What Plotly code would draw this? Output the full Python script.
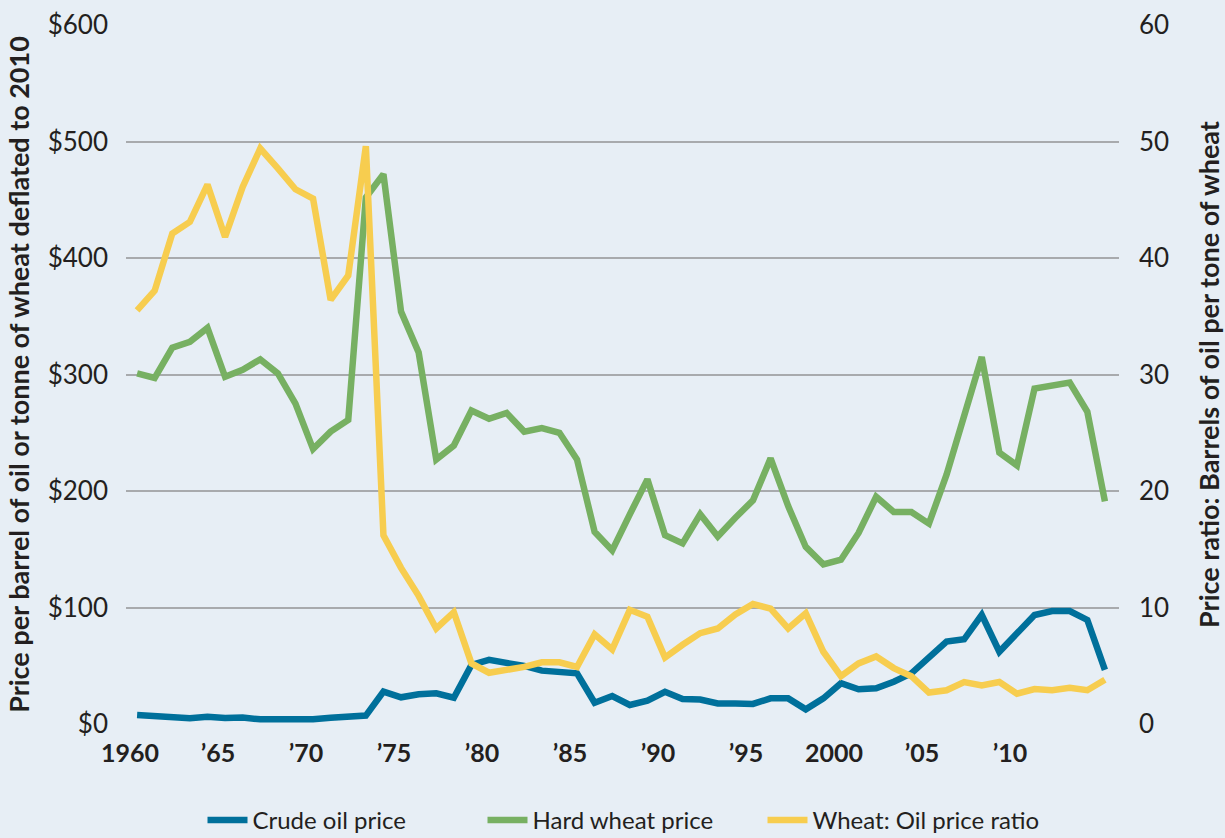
import plotly.graph_objects as go

years = list(range(1960, 2016))

crude_oil = [7.7, 7.0, 5.7, 4.9, 6.3, 5.2, 5.5, 4.0, 4.0, 4.0,
             4.0, 5.4, 5.7, 7.2, 27.8, 22.9, 25.5, 26.3, 22.6, 50.7,
             55.0, 52.7, 49.8, 45.8, 44.7, 43.5, 18.3, 24.0, 16.3, 20.0,
             27.7, 21.5, 21.0, 17.7, 17.7, 17.2, 22.0, 22.0, 12.6, 22.0,
             35.0, 29.8, 30.6, 36.3, 43.5, 57.8, 70.7, 72.7, 93.6, 62.0,
             77.9, 93.6, 97.0, 97.0, 89.3, 46.4]

hard_wheat = [301, 297, 323, 328, 340, 298, 304, 313, 301, 275,
              236, 251, 261, 452, 472, 354, 319, 227, 239, 269,
              262, 267, 251, 254, 250, 227, 165, 149, 180, 210,
              162, 155, 180, 161, 177, 192, 228, 187, 152, 137,
              141, 164, 195, 182, 182, 172, 214, 263, 315, 233,
              222, 288, 290, 293, 268, 191]

ratio = [35.5, 37.2, 42.1, 43.1, 46.3, 41.8, 46.1, 49.4, 47.7, 45.9,
         45.1, 36.4, 38.5, 49.6, 16.2, 13.4, 11.0, 8.2, 9.6, 5.2,
         4.4, 4.6, 4.9, 5.3, 5.3, 4.9, 7.7, 6.4, 9.8, 9.2,
         5.7, 6.8, 7.8, 8.2, 9.4, 10.3, 9.9, 8.2, 9.5, 6.2,
         4.1, 5.2, 5.8, 4.8, 4.1, 2.7, 2.9, 3.6, 3.3, 3.6,
         2.6, 3.0, 2.9, 3.1, 2.9, 3.8]

x_tickvals = [1960, 1965, 1970, 1975, 1980, 1985, 1990, 1995, 2000, 2005, 2010]
x_ticktext = ["1960", "\u201965", "\u201970", "\u201975", "\u201980", "\u201985",
              "\u201990", "\u201995", "2000", "\u201905", "\u201910"]
y_tickvals = [0, 100, 200, 300, 400, 500, 600]
y_ticktext = ["$0", "$100", "$200", "$300", "$400", "$500", "$600"]
y2_tickvals = [0, 10, 20, 30, 40, 50, 60]

BLUE = "#00709b"
GREEN = "#77b062"
YELLOW = "#f7cd4f"
BG = "#e7eef5"
GRID = "#a8aaad"
TEXT = "#231f20"
FONT = "Lato"

fig = go.Figure()
fig.add_trace(go.Scatter(x=years, y=crude_oil, name="Crude oil price", mode="lines",
                         line=dict(color=BLUE, width=6.5), yaxis="y"))
fig.add_trace(go.Scatter(x=years, y=hard_wheat, name="Hard wheat price", mode="lines",
                         line=dict(color=GREEN, width=6.5), yaxis="y"))
fig.add_trace(go.Scatter(x=years, y=ratio, name="Wheat: Oil price ratio", mode="lines",
                         line=dict(color=YELLOW, width=6.5), yaxis="y2"))

fig.update_layout(
    width=1225, height=838,
    margin=dict(l=126, r=106, t=25, b=114, autoexpand=False),
    paper_bgcolor=BG, plot_bgcolor=BG,
    font=dict(family=FONT, color=TEXT, size=25),
    showlegend=True,
    legend=dict(orientation="h", x=0.5, xanchor="center", y=-0.138, yanchor="middle",
                xref="paper", yref="paper",
                font=dict(family=FONT, size=24, color=TEXT),
                itemwidth=40, entrywidth=225, entrywidthmode="pixels",
                bgcolor="rgba(0,0,0,0)", tracegroupgap=0),
    xaxis=dict(range=[1959.37, 2015.8], tickvals=x_tickvals, ticktext=x_ticktext,
               showgrid=False, zeroline=False, showline=False, ticks="",
               automargin=False,
               tickfont=dict(family=FONT, size=25, color=TEXT, weight="bold"),
               ticklabelstandoff=12, ticklabelshift=-7),
    yaxis=dict(range=[0, 600], tickvals=y_tickvals, ticktext=y_ticktext,
               showgrid=True, gridcolor=GRID, gridwidth=1.5, zeroline=False,
               showline=False, ticks="", ticklabelstandoff=17, automargin=False,
               tickfont=dict(family=FONT, size=26, color=TEXT),
               title=dict(text="Price per barrel of oil or tonne of wheat deflated to 2010",
                          font=dict(family=FONT, size=27, color=TEXT, weight="bold"),
                          standoff=10)),
    yaxis2=dict(range=[0, 60], tickvals=y2_tickvals, overlaying="y", side="right",
                showgrid=False, zeroline=False, showline=False, ticks="",
                ticklabelstandoff=19, automargin=False,
                tickfont=dict(family=FONT, size=26, color=TEXT),
                title=dict(text="Price ratio: Barrels of oil per tone of wheat",
                           font=dict(family=FONT, size=27, color=TEXT, weight="bold"),
                           standoff=33)),
)

fig.write_html("out.html",
               config={"displayModeBar": False},
               post_script="document.body.style.margin='0';document.body.style.overflow='hidden';")
